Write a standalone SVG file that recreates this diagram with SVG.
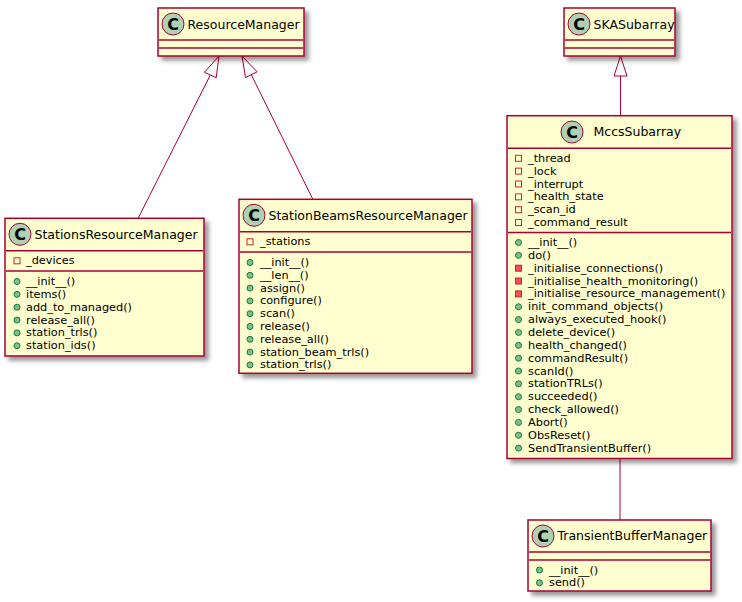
<svg xmlns="http://www.w3.org/2000/svg" width="742" height="602" viewBox="0 0 742 602">
<defs>
<filter id="sh" x="-0.2" y="-0.2" width="1.4" height="1.4">
<feGaussianBlur in="SourceAlpha" stdDeviation="2" result="b"/>
<feColorMatrix in="b" type="matrix" values="0 0 0 0 0 0 0 0 0 0 0 0 0 0 0 0 0 0 0.4 0" result="b2"/>
<feOffset in="b2" dx="4" dy="4" result="b3"/>
<feBlend in="SourceGraphic" in2="b3" mode="normal"/>
</filter>
</defs>
<style>
.box{fill:#FEFECE;stroke:#A80036;stroke-width:1.5;filter:url(#sh)}
.div{stroke:#A80036;stroke-width:1.5}
.circ{fill:#ADD1B2;stroke:#A80036;stroke-width:1}
.cg{font-family:"DejaVu Sans",sans-serif;font-weight:bold;font-size:16px;fill:#000;text-anchor:middle}
.name{font-family:"DejaVu Sans",sans-serif;font-size:12.5px;fill:#000}
.m{font-family:"DejaVu Sans",sans-serif;font-size:11.3px;fill:#000}
.pub{fill:#84BE84;stroke:#038048;stroke-width:1}
.pf{fill:none;stroke:#C82930;stroke-width:1}
.pm{fill:#F24D5C;stroke:#C82930;stroke-width:1}
.ln{stroke:#A80036;stroke-width:1;fill:none}
</style>

<g id="connectors">
<line class="ln" x1="138.3" y1="218" x2="210.3" y2="75"/>
<polygon class="ln" points="219,56 204.4,72.3 216.2,77.7"/>
<line class="ln" x1="312.7" y1="199" x2="251.3" y2="74.7"/>
<polygon class="ln" points="242,56 257.1,71.8 245.5,77.6"/>
<line class="ln" x1="620.5" y1="76" x2="620.5" y2="115.7"/>
<polygon class="ln" points="620.5,56 614,76 627,76"/>
<line class="ln" x1="620" y1="458.5" x2="620" y2="520"/>
</g>

<g id="ResourceManager">
<rect class="box" x="158" y="8" width="146" height="48"/>
<circle class="circ" cx="173" cy="24" r="11"/>
<text class="cg" x="173" y="29.8">C</text>
<text class="name" x="187.5" y="28.5">ResourceManager</text>
<line class="div" x1="159" y1="40" x2="303" y2="40"/>
<line class="div" x1="159" y1="48" x2="303" y2="48"/>
</g>

<g id="SKASubarray">
<rect class="box" x="564" y="8" width="111" height="48"/>
<circle class="circ" cx="579" cy="24" r="11"/>
<text class="cg" x="579" y="29.8">C</text>
<text class="name" x="593.5" y="28.5">SKASubarray</text>
<line class="div" x1="565" y1="40" x2="674" y2="40"/>
<line class="div" x1="565" y1="48" x2="674" y2="48"/>
</g>

<g id="StationsResourceManager">
<rect class="box" x="5" y="218.3" width="199" height="137.7"/>
<circle class="circ" cx="20" cy="234.3" r="11"/>
<text class="cg" x="20" y="240.1">C</text>
<text class="name" x="34.5" y="239">StationsResourceManager</text>
<line class="div" x1="6" y1="250.7" x2="203" y2="250.7"/>
<rect class="pf" x="14" y="257.8" width="6" height="6"/>
<text class="m" x="26" y="264.3">_devices</text>
<line class="div" x1="6" y1="271" x2="203" y2="271"/>
<circle class="pub" cx="17" cy="281.5" r="3"/><text class="m" x="26" y="285">__init__()</text>
<circle class="pub" cx="17" cy="294.35" r="3"/><text class="m" x="26" y="297.85">items()</text>
<circle class="pub" cx="17" cy="307.2" r="3"/><text class="m" x="26" y="310.7">add_to_managed()</text>
<circle class="pub" cx="17" cy="320.05" r="3"/><text class="m" x="26" y="323.55">release_all()</text>
<circle class="pub" cx="17" cy="332.9" r="3"/><text class="m" x="26" y="336.4">station_trls()</text>
<circle class="pub" cx="17" cy="345.75" r="3"/><text class="m" x="26" y="349.25">station_ids()</text>
</g>

<g id="StationBeamsResourceManager">
<rect class="box" x="239" y="199.3" width="233" height="174"/>
<circle class="circ" cx="254" cy="215.3" r="11"/>
<text class="cg" x="254" y="221.1">C</text>
<text class="name" x="268.5" y="220">StationBeamsResourceManager</text>
<line class="div" x1="240" y1="231.7" x2="471" y2="231.7"/>
<rect class="pf" x="247" y="238.8" width="6" height="6"/>
<text class="m" x="260" y="245.3">_stations</text>
<line class="div" x1="240" y1="252" x2="471" y2="252"/>
<circle class="pub" cx="250" cy="262.5" r="3"/><text class="m" x="260" y="266">__init__()</text>
<circle class="pub" cx="250" cy="275.3" r="3"/><text class="m" x="260" y="278.8">__len__()</text>
<circle class="pub" cx="250" cy="288.1" r="3"/><text class="m" x="260" y="291.6">assign()</text>
<circle class="pub" cx="250" cy="300.9" r="3"/><text class="m" x="260" y="304.4">configure()</text>
<circle class="pub" cx="250" cy="313.7" r="3"/><text class="m" x="260" y="317.2">scan()</text>
<circle class="pub" cx="250" cy="326.5" r="3"/><text class="m" x="260" y="330">release()</text>
<circle class="pub" cx="250" cy="339.3" r="3"/><text class="m" x="260" y="342.8">release_all()</text>
<circle class="pub" cx="250" cy="352.1" r="3"/><text class="m" x="260" y="355.6">station_beam_trls()</text>
<circle class="pub" cx="250" cy="364.9" r="3"/><text class="m" x="260" y="368.4">station_trls()</text>
</g>

<g id="MccsSubarray">
<rect class="box" x="507" y="115.7" width="225" height="342.8"/>
<circle class="circ" cx="572" cy="132" r="11"/>
<text class="cg" x="572" y="137.8">C</text>
<text class="name" x="593.5" y="136.2">MccsSubarray</text>
<line class="div" x1="508" y1="148.3" x2="731" y2="148.3"/>
<rect class="pf" x="515.5" y="155.3" width="6" height="6"/><text class="m" x="528" y="161.8">_thread</text>
<rect class="pf" x="515.5" y="168.15" width="6" height="6"/><text class="m" x="528" y="174.65">_lock</text>
<rect class="pf" x="515.5" y="181" width="6" height="6"/><text class="m" x="528" y="187.5">_interrupt</text>
<rect class="pf" x="515.5" y="193.85" width="6" height="6"/><text class="m" x="528" y="200.35">_health_state</text>
<rect class="pf" x="515.5" y="206.7" width="6" height="6"/><text class="m" x="528" y="213.2">_scan_id</text>
<rect class="pf" x="515.5" y="219.55" width="6" height="6"/><text class="m" x="528" y="226.05">_command_result</text>
<line class="div" x1="508" y1="232.5" x2="731" y2="232.5"/>
<circle class="pub" cx="518.5" cy="242.5" r="3"/><text class="m" x="528" y="246">__init__()</text>
<circle class="pub" cx="518.5" cy="255.35" r="3"/><text class="m" x="528" y="258.85">do()</text>
<rect class="pm" x="515.5" y="265.2" width="6" height="6"/><text class="m" x="528" y="271.7">_initialise_connections()</text>
<rect class="pm" x="515.5" y="278.05" width="6" height="6"/><text class="m" x="528" y="284.55">_initialise_health_monitoring()</text>
<rect class="pm" x="515.5" y="290.9" width="6" height="6"/><text class="m" x="528" y="297.4">_initialise_resource_management()</text>
<circle class="pub" cx="518.5" cy="306.75" r="3"/><text class="m" x="528" y="310.25">init_command_objects()</text>
<circle class="pub" cx="518.5" cy="319.6" r="3"/><text class="m" x="528" y="323.1">always_executed_hook()</text>
<circle class="pub" cx="518.5" cy="332.45" r="3"/><text class="m" x="528" y="335.95">delete_device()</text>
<circle class="pub" cx="518.5" cy="345.3" r="3"/><text class="m" x="528" y="348.8">health_changed()</text>
<circle class="pub" cx="518.5" cy="358.15" r="3"/><text class="m" x="528" y="361.65">commandResult()</text>
<circle class="pub" cx="518.5" cy="371" r="3"/><text class="m" x="528" y="374.5">scanId()</text>
<circle class="pub" cx="518.5" cy="383.85" r="3"/><text class="m" x="528" y="387.35">stationTRLs()</text>
<circle class="pub" cx="518.5" cy="396.7" r="3"/><text class="m" x="528" y="400.2">succeeded()</text>
<circle class="pub" cx="518.5" cy="409.55" r="3"/><text class="m" x="528" y="413.05">check_allowed()</text>
<circle class="pub" cx="518.5" cy="422.4" r="3"/><text class="m" x="528" y="425.9">Abort()</text>
<circle class="pub" cx="518.5" cy="435.25" r="3"/><text class="m" x="528" y="438.75">ObsReset()</text>
<circle class="pub" cx="518.5" cy="448.1" r="3"/><text class="m" x="528" y="451.6">SendTransientBuffer()</text>
</g>

<g id="TransientBufferManager">
<rect class="box" x="528" y="520" width="183" height="71"/>
<circle class="circ" cx="543" cy="536" r="11"/>
<text class="cg" x="543" y="541.8">C</text>
<text class="name" x="557.5" y="540">TransientBufferManager</text>
<line class="div" x1="529" y1="552" x2="710" y2="552"/>
<line class="div" x1="529" y1="560" x2="710" y2="560"/>
<circle class="pub" cx="539.5" cy="570" r="3"/><text class="m" x="549" y="573.5">__init__()</text>
<circle class="pub" cx="539.5" cy="582.85" r="3"/><text class="m" x="549" y="586.35">send()</text>
</g>
</svg>
